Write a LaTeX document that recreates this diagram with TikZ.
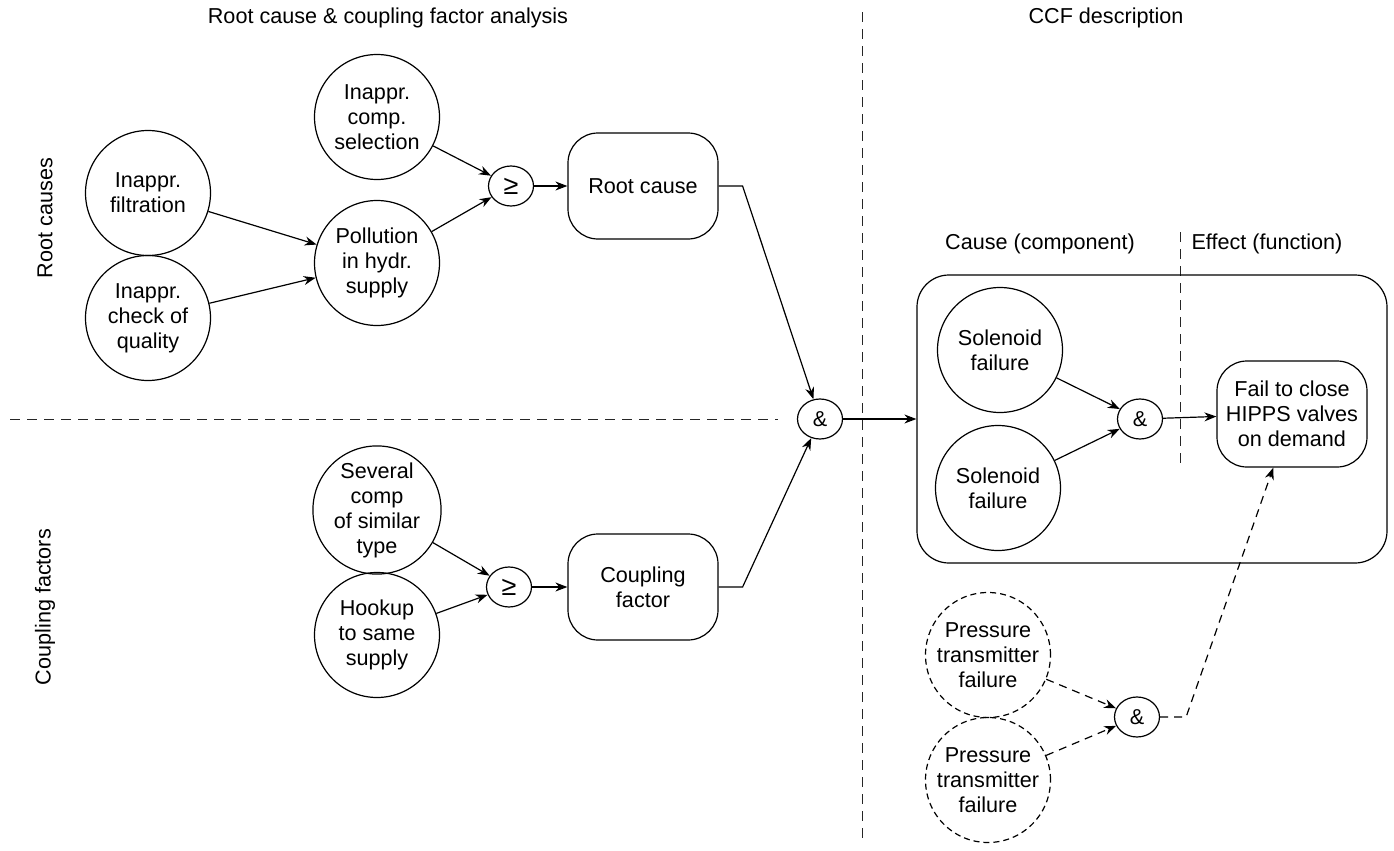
\documentclass[tikz,border=0pt]{standalone}
\usepackage{fontspec}
\setmainfont{Liberation Sans}
\usetikzlibrary{shapes.geometric,arrows.meta}
\begin{document}
\begin{tikzpicture}[x=0.5pt,y=-0.5pt,
  font=\fontsize{10.8}{12.5}\selectfont,
  ev/.style={circle,draw,line width=0.6pt,minimum size=62.5pt,inner sep=0pt,align=center},
  evd/.style={ev,dash pattern=on 3pt off 2pt},
  gate/.style={ellipse,draw,line width=0.6pt,minimum width=22.5pt,minimum height=20pt,inner sep=0pt},
  orgate/.style={gate,font=\fontsize{13.5}{13.5}\selectfont},
  box/.style={rounded corners=15pt,draw,line width=0.6pt,minimum width=75pt,minimum height=53pt,align=center},
  arr/.style={draw,line width=0.6pt,-{Stealth[length=6pt,width=4.5pt]}},
  darr/.style={arr,dash pattern=on 4pt off 3pt},
  divider/.style={draw,line width=0.5pt,dash pattern=on 5pt off 3.5pt,color=black!85},
]
\useasboundingbox (0,0) rectangle (1394,851);

% headings
\node at (388,18) {Root cause \& coupling factor analysis};
\node at (1106,18) {CCF description};
\node[rotate=90] at (45,218) {Root causes};
\node[rotate=90] at (45,607) {Coupling factors};
\node at (1040,244) {Cause (component)};
\node at (1267,244) {Effect (function)};

% dividers
\draw[divider] (10,419) -- (778,419);
\draw[divider] (862,12) -- (862,840);
\draw[divider] (1180,232) -- (1180,467);

% root causes
\node[ev] (sel) at (377,117) {Inappr.\\comp.\\selection};
\node[ev] (filt) at (148,193) {Inappr.\\filtration};
\node[ev] (chk) at (148,318) {Inappr.\\check of\\quality};
\node[ev] (poll) at (377,263) {Pollution\\in hydr.\\supply};
\node[orgate] (ge1) at (511,186) {≥};
\node[box] (rc) at (643,186) {Root cause};

% coupling factors
\node[ev] (sev) at (377,510) {Several\\comp\\of similar\\type};
\node[ev] (hook) at (377,635) {Hookup\\to same\\supply};
\node[orgate] (ge2) at (509,587) {≥};
\node[box] (cf) at (643,587) {Coupling\\factor};

% combination
\node[gate] (and1) at (820,419) {\&};

% CCF description
\node[draw,line width=0.6pt,rounded corners=16pt,minimum width=235pt,minimum height=144pt] (ccf) at (1152,419) {};
\node[ev] (sol1) at (1000,350) {Solenoid\\failure};
\node[ev] (sol2) at (998,488) {Solenoid\\failure};
\node[gate] (and2) at (1140,419) {\&};
\node[box] (fail) at (1292,414) {Fail to close\\HIPPS valves\\on demand};
\node[evd] (pt1) at (988,655) {Pressure\\transmitter\\failure};
\node[evd] (pt2) at (988,780) {Pressure\\transmitter\\failure};
\node[gate] (and3) at (1137,717) {\&};

% connectors
\draw[arr] (filt) -- (poll);
\draw[arr] (chk) -- (poll);
\draw[arr] (sel) -- (ge1);
\draw[arr] (poll) -- (ge1);
\draw[arr] (ge1) -- (rc);
\draw[arr] (rc.east) -- ++(24,0) -- (and1);
\draw[arr] (sev) -- (ge2);
\draw[arr] (hook) -- (ge2);
\draw[arr] (ge2) -- (cf);
\draw[arr] (cf.east) -- ++(24,0) -- (and1);
\draw[arr] (and1) -- (ccf.west);
\draw[arr] (sol1) -- (and2);
\draw[arr] (sol2) -- (and2);
\draw[arr] (and2) -- (fail);
\draw[darr] (pt1) -- (and3);
\draw[darr] (pt2) -- (and3);
\draw[darr] (and3.east) -- ++(26,0) -- (fail);
\end{tikzpicture}
\end{document}
